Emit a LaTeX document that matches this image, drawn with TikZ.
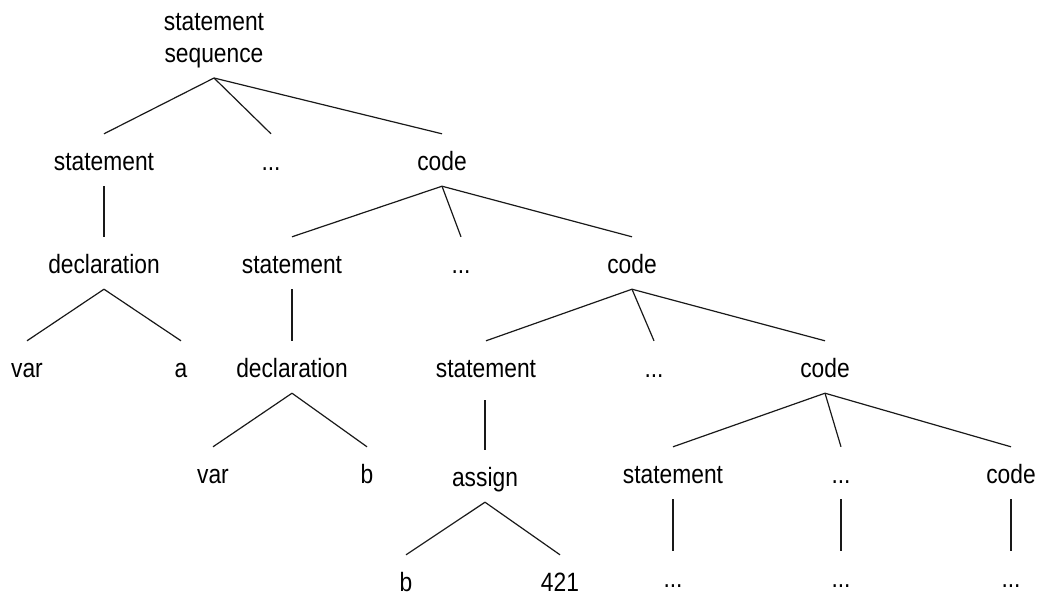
\documentclass[tikz,border=0pt]{standalone}
\usepackage{fontspec}
\setmainfont{Liberation Sans}
\usepackage{graphicx}
% narrow labels, as set in the tree
\newcommand\nm[1]{\scalebox{0.86}[1]{#1}}
\tikzset{
  lbl/.style={anchor=base, font=\fontsize{26.5}{32}\selectfont,
    text height=20pt, text depth=0pt, inner xsep=0pt, inner ysep=16pt,
    text=black},
  edge/.style={line width=1.2pt, draw=black!90},
}
\begin{document}
\begin{tikzpicture}[x=1pt, y=-1pt]
\useasboundingbox (0,0) rectangle (1039,595);

% root
\node[font=\fontsize{26.5}{32}\selectfont, align=center, anchor=south,
      inner xsep=0pt, inner ysep=9.5pt, text=black] (root) at (214,78)
      {\nm{statement}\\\nm{sequence}};

% level 1
\node[lbl] (st1)   at (104,170) {\nm{statement}};
\node[lbl] (dots1) at (271,170) {\nm{...}};
\node[lbl] (code1) at (442,170) {\nm{code}};

% first declaration
\node[lbl] (dec1) at (104,273) {\nm{declaration}};
\node[lbl] (var1) at (27,377)  {\nm{var}};
\node[lbl] (a1)   at (181,377) {\nm{a}};

% level 2
\node[lbl] (st2)   at (292,273) {\nm{statement}};
\node[lbl] (dots2) at (461,273) {\nm{...}};
\node[lbl] (code2) at (632,273) {\nm{code}};

% second declaration
\node[lbl] (dec2) at (292,377) {\nm{declaration}};
\node[lbl] (var2) at (213,483) {\nm{var}};
\node[lbl] (b1)   at (367,483) {\nm{b}};

% level 3
\node[lbl] (st3)   at (486,377) {\nm{statement}};
\node[lbl] (dots3) at (654,377) {\nm{...}};
\node[lbl] (code3) at (825,377) {\nm{code}};

% assignment
\node[lbl] (assign) at (485,486) {\nm{assign}};
\node[lbl] (b2)     at (406,591) {\nm{b}};
\node[lbl] (n421)   at (560,591) {\nm{421}};

% level 4
\node[lbl] (st4)   at (673,483)  {\nm{statement}};
\node[lbl] (dots4) at (841,483)  {\nm{...}};
\node[lbl] (code4) at (1011,483) {\nm{code}};

% level 5
\node[lbl] (e1) at (673,587)  {\nm{...}};
\node[lbl] (e2) at (841,587)  {\nm{...}};
\node[lbl] (e3) at (1011,587) {\nm{...}};

% connectors
\draw[edge] (root.south) -- (st1.north);
\draw[edge] (root.south) -- (dots1.north);
\draw[edge] (root.south) -- (code1.north);

\draw[edge] (st1.south) -- (dec1.north);
\draw[edge] (dec1.south) -- (var1.north);
\draw[edge] (dec1.south) -- (a1.north);

\draw[edge] (code1.south) -- (st2.north);
\draw[edge] (code1.south) -- (dots2.north);
\draw[edge] (code1.south) -- (code2.north);

\draw[edge] (st2.south) -- (dec2.north);
\draw[edge] (dec2.south) -- (var2.north);
\draw[edge] (dec2.south) -- (b1.north);

\draw[edge] (code2.south) -- (st3.north);
\draw[edge] (code2.south) -- (dots3.north);
\draw[edge] (code2.south) -- (code3.north);

\draw[edge, shorten <=7pt] (assign.north |- st3.south) -- (assign.north);
\draw[edge] (assign.south) -- (b2.north);
\draw[edge] (assign.south) -- (n421.north);

\draw[edge] (code3.south) -- (st4.north);
\draw[edge] (code3.south) -- (dots4.north);
\draw[edge] (code3.south) -- (code4.north);

\draw[edge] (st4.south) -- (e1.north);
\draw[edge] (dots4.south) -- (e2.north);
\draw[edge] (code4.south) -- (e3.north);
\end{tikzpicture}
\end{document}
